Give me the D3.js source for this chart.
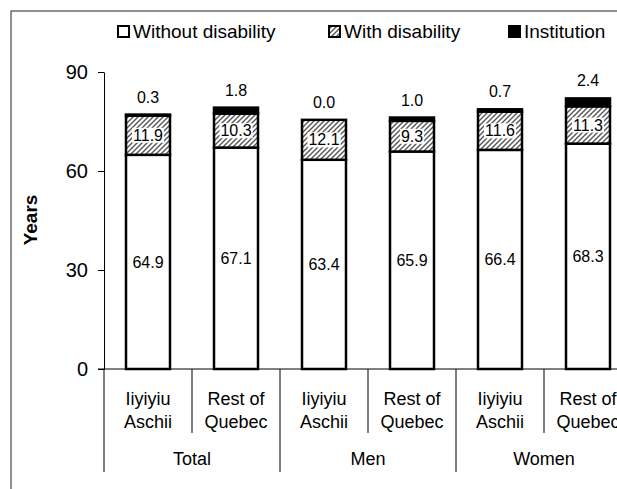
<!DOCTYPE html>
<html>
<head>
<meta charset="utf-8">
<script src="https://cdn.jsdelivr.net/npm/d3@7"></script>
<style>
  body { margin: 0; background: #fff; }
  text { font-family: Arial, "Liberation Sans", sans-serif; fill: #000; }
</style>
</head>
<body>
<div id="chart"></div>
<script>
// data
let groups = ["Total", "Men", "Women"];
let places = ["Iiyiyiu Aschii", "Rest of Quebec"];
let withoutDisability = [64.9, 67.1, 63.4, 65.9, 66.4, 68.3];
let withDisability = [11.9, 10.3, 12.1, 9.3, 11.6, 11.3];
let institution = [0.3, 1.8, 0.0, 1.0, 0.7, 2.4];
let seriesNames = ["Without disability", "With disability", "Institution"];
let yTicks = [0, 30, 60, 90];

let w = 617;
let h = 489;

let svg = d3.select("#chart")
  .append("svg")
    .attr("width", w)
    .attr("height", h);

// hatch for the "with disability" part
let defs = svg.append("defs");
let pat = defs.append("pattern")
    .attr("id", "hatch")
    .attr("patternUnits", "userSpaceOnUse")
    .attr("width", 5)
    .attr("height", 5);
pat.append("rect").attr("width", 5).attr("height", 5).attr("fill", "#fff");
pat.append("path")
    .attr("d", "M-1,6 L6,-1 M-1,1 L1,-1 M4,6 L6,4")
    .attr("stroke", "#555")
    .attr("stroke-width", 1.4);

// outer frame (cut off on the right and bottom like the original)
svg.append("rect")
    .attr("x", 11).attr("y", 11)
    .attr("width", 700).attr("height", 600)
    .attr("fill", "none")
    .attr("stroke", "#222")
    .attr("stroke-width", 1);

// rows: one per bar
let rows = [];
groups.forEach(function(g, gi) {
  places.forEach(function(p, pi) {
    let i = gi * places.length + pi;
    rows.push({
      key: g + "|" + p,
      group: g,
      place: p,
      without: withoutDisability[i],
      withd: withDisability[i],
      inst: institution[i]
    });
  });
});

let x = d3.scaleBand()
    .domain(rows.map(d => d.key))
    .range([104, 632])
    .paddingInner(0.5)
    .paddingOuter(0.25);

let y = d3.scaleLinear()
    .domain([0, 90])
    .range([369, 72]);

let stack = d3.stack().keys(["without", "withd", "inst"]);
let layers = stack(rows);
let fills = ["#fff", "url(#hatch)", "#000"];

// y axis
let yAxis = svg.append("g")
    .attr("transform", "translate(104,0)")
    .call(d3.axisLeft(y).tickValues(yTicks).tickSize(6).tickPadding(10).tickSizeOuter(0));
yAxis.select(".domain").attr("stroke", "#000").attr("stroke-width", 1);
yAxis.selectAll(".tick line").attr("stroke", "#000");
yAxis.selectAll(".tick text")
    .style("font-size", "20px")
    .attr("fill", "#000");

// axis title
svg.append("text")
    .attr("transform", "translate(37,220) rotate(-90)")
    .attr("text-anchor", "middle")
    .style("font-size", "19px")
    .style("font-weight", "bold")
    .text("Years");

// bars
let layerG = svg.selectAll(".layer").data(layers)
  .enter()
    .append("g")
    .attr("class", "layer")
    .attr("fill", (d, i) => fills[i]);

layerG.selectAll("rect").data(d => d)
  .enter()
    .append("rect")
    .attr("x", d => x(d.data.key))
    .attr("y", d => y(d[1]))
    .attr("width", x.bandwidth())
    .attr("height", d => y(d[0]) - y(d[1]))
    .attr("stroke", "#000")
    .attr("stroke-width", 2.5);

// labels in the white part
svg.selectAll(".lab0").data(layers[0])
  .enter()
    .append("text")
    .attr("class", "lab0")
    .attr("x", d => x(d.data.key) + x.bandwidth() / 2)
    .attr("y", d => y((d[0] + d[1]) / 2))
    .attr("dy", "0.35em")
    .attr("text-anchor", "middle")
    .style("font-size", "16px")
    .text(d => d.data.without.toFixed(1));

// labels in the hatched part, with a white box behind
let lab1 = svg.selectAll(".lab1").data(layers[1])
  .enter()
    .append("g")
    .attr("class", "lab1");
let lab1Text = lab1.append("text")
    .attr("x", d => x(d.data.key) + x.bandwidth() / 2)
    .attr("y", d => y((d[0] + d[1]) / 2))
    .attr("dy", "0.35em")
    .attr("text-anchor", "middle")
    .style("font-size", "16px")
    .text(d => d.data.withd.toFixed(1));
lab1.each(function() {
  let g = d3.select(this);
  let b = g.select("text").node().getBBox();
  g.insert("rect", "text")
    .attr("x", b.x - 1)
    .attr("y", b.y + 1)
    .attr("width", b.width + 2)
    .attr("height", b.height - 2)
    .attr("fill", "#fff");
});

// institution labels above the bars
svg.selectAll(".lab2").data(layers[2])
  .enter()
    .append("text")
    .attr("class", "lab2")
    .attr("x", d => x(d.data.key) + x.bandwidth() / 2)
    .attr("y", d => y(d[1]) - 12)
    .attr("text-anchor", "middle")
    .style("font-size", "16px")
    .text(d => d.data.inst.toFixed(1));

// x axis: baseline, separators and two-level labels
svg.append("line")
    .attr("x1", 98).attr("x2", 640)
    .attr("y1", y(0)).attr("y2", y(0))
    .attr("stroke", "#000");

let step = x.step();
// small separators between places
svg.selectAll(".sep").data(rows.filter((d, i) => i % 2 == 0))
  .enter()
    .append("line")
    .attr("x1", d => x(d.key) - step * 0.25 + step)
    .attr("x2", d => x(d.key) - step * 0.25 + step)
    .attr("y1", y(0)).attr("y2", 433)
    .attr("stroke", "#000");
// long separators between groups
svg.selectAll(".gsep").data(d3.range(groups.length + 1))
  .enter()
    .append("line")
    .attr("x1", i => 104 + i * step * places.length)
    .attr("x2", i => 104 + i * step * places.length)
    .attr("y1", y(0)).attr("y2", 472)
    .attr("stroke", "#000");

let catText = svg.selectAll(".cat").data(rows)
  .enter()
    .append("text")
    .attr("class", "cat")
    .attr("text-anchor", "middle")
    .style("font-size", "18px");
catText.append("tspan")
    .attr("x", d => x(d.key) + x.bandwidth() / 2)
    .attr("y", 405)
    .text(d => d.place.split(" ")[0] + (d.place.split(" ").length > 2 ? " " + d.place.split(" ")[1] : ""));
catText.append("tspan")
    .attr("x", d => x(d.key) + x.bandwidth() / 2)
    .attr("y", 428)
    .text(d => d.place.split(" ").slice(-1)[0]);

svg.selectAll(".grp").data(groups)
  .enter()
    .append("text")
    .attr("class", "grp")
    .attr("x", (d, i) => 104 + (i + 0.5) * step * places.length)
    .attr("y", 465)
    .attr("text-anchor", "middle")
    .style("font-size", "18px")
    .text(d => d);

// legend
let legendX = [117, 328, 508];
let leg = svg.selectAll(".leg").data(seriesNames)
  .enter()
    .append("g")
    .attr("class", "leg")
    .attr("transform", (d, i) => "translate(" + legendX[i] + ",25)");
leg.append("rect")
    .attr("x", 1).attr("y", 1)
    .attr("width", 11).attr("height", 11)
    .attr("fill", (d, i) => fills[i])
    .attr("stroke", "#000")
    .attr("stroke-width", 2);
leg.append("text")
    .attr("x", 16)
    .attr("y", 13)
    .style("font-size", "19px")
    .text(d => d);
</script>
</body>
</html>
